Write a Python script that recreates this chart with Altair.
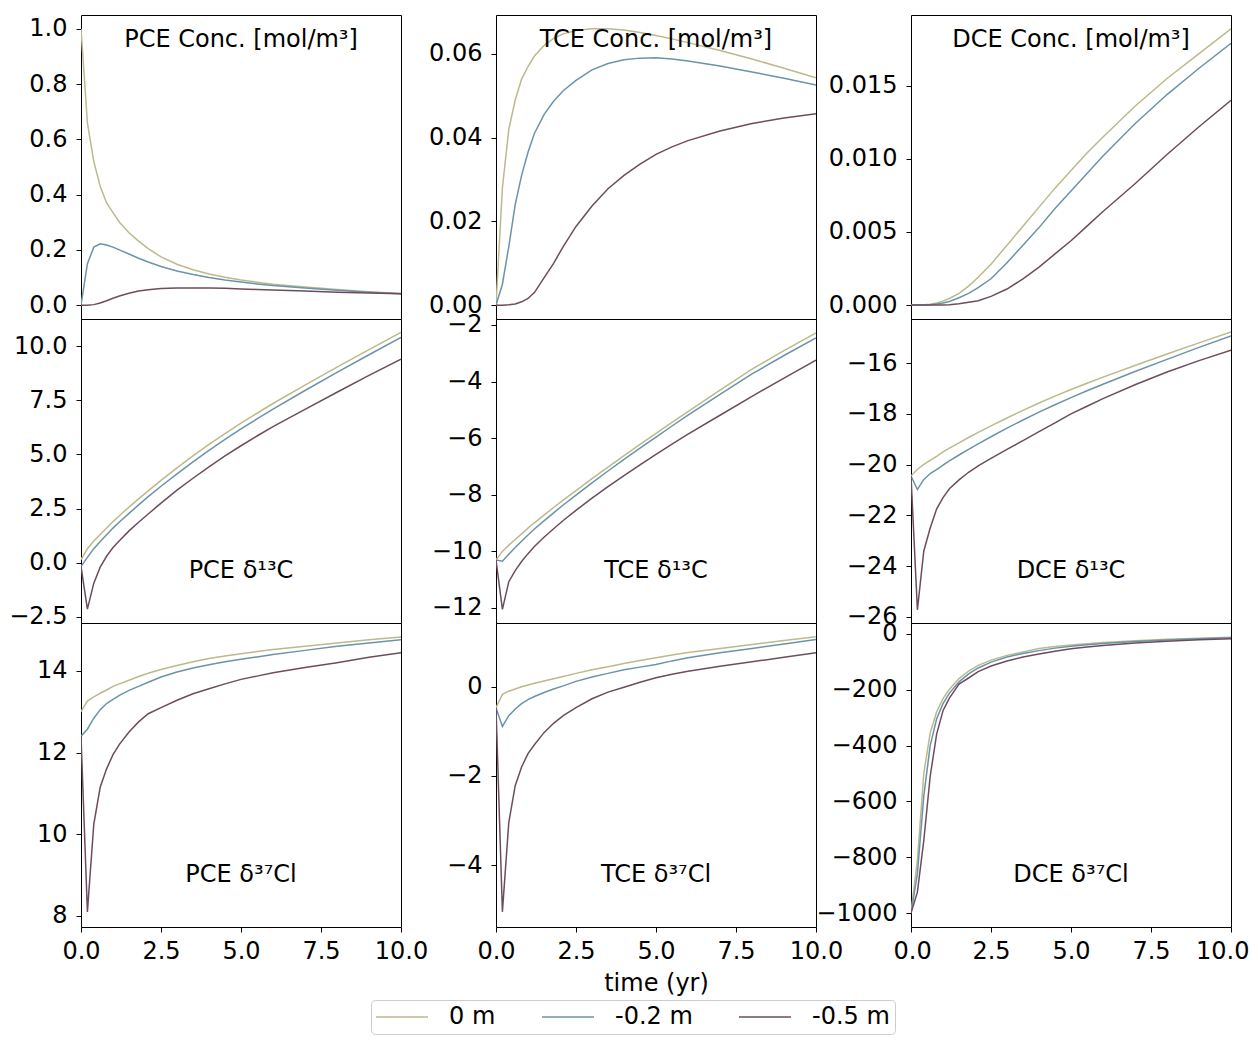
import altair as alt
import pandas as pd

# ---------------- data ----------------
T = [0, 0.2, 0.4, 0.6, 0.8, 1.0, 1.2, 1.5, 1.8, 2.1, 2.5, 3.0, 3.5, 4.0, 4.5, 5.0, 5.5, 6.0, 7.0, 8.0, 9.0, 10.0]
SERIES = ["0 m", "-0.2 m", "-0.5 m"]
COLORS = ["#bcb98c", "#6b93a9", "#6e4c5e"]

pce_conc_0 = [1.0, 0.66, 0.52, 0.43, 0.37, 0.335, 0.30, 0.262, 0.232, 0.205, 0.175, 0.148, 0.128, 0.113, 0.101, 0.091, 0.083, 0.076, 0.066, 0.057, 0.049, 0.042]
pce_conc_2 = [0.0, 0.15, 0.21, 0.222, 0.218, 0.21, 0.20, 0.185, 0.17, 0.156, 0.14, 0.124, 0.111, 0.1, 0.091, 0.084, 0.077, 0.071, 0.062, 0.054, 0.047, 0.041]
pce_conc_5 = [0.0, 0.0, 0.002, 0.008, 0.016, 0.025, 0.033, 0.043, 0.051, 0.056, 0.06, 0.062, 0.0625, 0.062, 0.061, 0.059, 0.057, 0.055, 0.051, 0.047, 0.044, 0.041]

tce_conc_0 = [0.0, 0.028, 0.042, 0.049, 0.054, 0.057, 0.0595, 0.062, 0.0637, 0.0648, 0.0656, 0.066, 0.066, 0.0657, 0.0651, 0.0644, 0.0636, 0.0627, 0.0608, 0.0588, 0.0566, 0.0543]
tce_conc_2 = [0.0, 0.005, 0.014, 0.024, 0.031, 0.0365, 0.041, 0.0455, 0.0487, 0.0512, 0.0537, 0.0562, 0.0577, 0.0586, 0.059, 0.0591, 0.0588, 0.0583, 0.0571, 0.0557, 0.0542, 0.0526]
tce_conc_5 = [0.0, 0.0, 0.0001, 0.0003, 0.0008, 0.0016, 0.003, 0.0065, 0.010, 0.014, 0.0188, 0.0237, 0.0278, 0.031, 0.0337, 0.036, 0.0378, 0.0393, 0.0416, 0.0434, 0.0447, 0.0457]

dce_conc_0 = [0.0, 0.0, 0.00002, 0.00006, 0.00014, 0.00027, 0.00045, 0.0008, 0.0013, 0.0019, 0.0028, 0.0041, 0.0054, 0.0067, 0.008, 0.0092, 0.0104, 0.0115, 0.0136, 0.0155, 0.0172, 0.0189]
dce_conc_2 = [0.0, 0.0, 0.00001, 0.00003, 0.00007, 0.00014, 0.00025, 0.0005, 0.0008, 0.0012, 0.0018, 0.0029, 0.0041, 0.0053, 0.0066, 0.0078, 0.009, 0.0102, 0.0124, 0.0144, 0.0162, 0.0179]
dce_conc_5 = [0.0, 0.0, 0.0, 0.0, 0.0, 0.00001, 0.00003, 0.0001, 0.0002, 0.0003, 0.0006, 0.0011, 0.0018, 0.0026, 0.0035, 0.0044, 0.0054, 0.0064, 0.0083, 0.0103, 0.0122, 0.014]

pce_d13c_0 = [0.15, 0.65, 1.0, 1.3, 1.6, 1.9, 2.17, 2.57, 2.95, 3.32, 3.8, 4.38, 4.93, 5.46, 5.96, 6.44, 6.9, 7.35, 8.2, 9.03, 9.84, 10.63]
pce_d13c_2 = [-0.17, 0.25, 0.65, 0.98, 1.29, 1.6, 1.88, 2.28, 2.67, 3.05, 3.53, 4.1, 4.66, 5.19, 5.69, 6.18, 6.64, 7.09, 7.95, 8.79, 9.6, 10.4]
pce_d13c_5 = [-0.17, -2.14, -0.94, -0.2, 0.3, 0.7, 1.02, 1.47, 1.87, 2.25, 2.75, 3.35, 3.9, 4.43, 4.93, 5.4, 5.85, 6.28, 7.08, 7.87, 8.65, 9.4]

tce_d13c_0 = [-10.3, -10.0, -9.78, -9.58, -9.38, -9.18, -8.99, -8.72, -8.45, -8.19, -7.85, -7.43, -7.02, -6.62, -6.22, -5.83, -5.44, -5.06, -4.3, -3.56, -2.91, -2.28]
tce_d13c_2 = [-10.3, -10.35, -10.1, -9.86, -9.64, -9.42, -9.21, -8.92, -8.64, -8.36, -8.01, -7.58, -7.16, -6.75, -6.35, -5.96, -5.57, -5.19, -4.45, -3.73, -3.08, -2.46]
tce_d13c_5 = [-10.3, -12.05, -11.07, -10.68, -10.36, -10.08, -9.83, -9.5, -9.2, -8.91, -8.55, -8.12, -7.71, -7.32, -6.94, -6.57, -6.21, -5.86, -5.19, -4.52, -3.88, -3.24]

dce_d13c_0 = [-20.45, -20.18, -19.99, -19.83, -19.67, -19.5, -19.35, -19.14, -18.93, -18.73, -18.47, -18.16, -17.86, -17.57, -17.3, -17.04, -16.79, -16.55, -16.09, -15.64, -15.2, -14.77]
dce_d13c_2 = [-20.45, -20.98, -20.58, -20.35, -20.2, -20.02, -19.85, -19.62, -19.4, -19.18, -18.9, -18.56, -18.24, -17.93, -17.64, -17.36, -17.09, -16.83, -16.33, -15.85, -15.38, -14.93]
dce_d13c_5 = [-20.45, -25.72, -23.4, -22.5, -21.75, -21.3, -20.95, -20.6, -20.3, -20.05, -19.75, -19.4, -19.05, -18.7, -18.35, -18.0, -17.7, -17.4, -16.85, -16.35, -15.9, -15.49]

pce_d37cl_0 = [13.0, 13.26, 13.36, 13.45, 13.53, 13.62, 13.68, 13.77, 13.86, 13.94, 14.03, 14.13, 14.22, 14.3, 14.36, 14.42, 14.47, 14.52, 14.6, 14.68, 14.76, 14.83]
pce_d37cl_2 = [12.4, 12.57, 12.84, 13.05, 13.2, 13.3, 13.4, 13.52, 13.62, 13.72, 13.85, 13.97, 14.07, 14.15, 14.22, 14.28, 14.34, 14.4, 14.5, 14.6, 14.68, 14.76]
pce_d37cl_5 = [12.4, 8.1, 10.25, 11.15, 11.6, 11.95, 12.2, 12.5, 12.75, 12.95, 13.1, 13.28, 13.44, 13.56, 13.68, 13.79, 13.87, 13.95, 14.08, 14.2, 14.33, 14.44]

tce_d37cl_0 = [-0.47, -0.17, -0.1, -0.05, 0.0, 0.04, 0.08, 0.13, 0.18, 0.23, 0.3, 0.38, 0.45, 0.52, 0.59, 0.65, 0.71, 0.77, 0.86, 0.95, 1.04, 1.12]
tce_d37cl_2 = [-0.47, -0.89, -0.65, -0.5, -0.38, -0.29, -0.22, -0.13, -0.05, 0.02, 0.12, 0.22, 0.3, 0.38, 0.44, 0.5, 0.58, 0.65, 0.76, 0.86, 0.96, 1.06]
tce_d37cl_5 = [-0.47, -5.05, -3.04, -2.22, -1.8, -1.5, -1.3, -1.03, -0.82, -0.65, -0.47, -0.27, -0.12, -0.01, 0.1, 0.2, 0.28, 0.35, 0.46, 0.56, 0.66, 0.76]

dce_d37cl_0 = [-1000, -810, -500, -355, -280, -232, -198, -160, -133, -113, -94, -77, -65, -52, -45, -40, -35, -31, -25, -19.5, -15.5, -12]
dce_d37cl_2 = [-1000, -860, -580, -400, -305, -250, -212, -172, -143, -122, -101, -83, -70, -60, -51, -44, -39, -34, -27.5, -22, -17.5, -14]
dce_d37cl_5 = [-1000, -925, -740, -510, -360, -275, -230, -180, -158, -135, -115, -97, -83, -72, -62, -53, -47, -42, -33, -26, -21, -17]

# panel definitions: (series lists, y domain, tick values, format, label text, label position)
PANELS = [
    ([pce_conc_0, pce_conc_2, pce_conc_5], [-0.05, 1.05], [0.0, 0.2, 0.4, 0.6, 0.8, 1.0], ".1f", "PCE Conc. [mol/m³]", "top"),
    ([tce_conc_0, tce_conc_2, tce_conc_5], [-0.0033, 0.0693], [0.0, 0.02, 0.04, 0.06], ".2f", "TCE Conc. [mol/m³]", "top"),
    ([dce_conc_0, dce_conc_2, dce_conc_5], [-0.00095, 0.01984], [0.0, 0.005, 0.010, 0.015], ".3f", "DCE Conc. [mol/m³]", "top"),
    ([pce_d13c_0, pce_d13c_2, pce_d13c_5], [-2.78, 11.25], [-2.5, 0.0, 2.5, 5.0, 7.5, 10.0], ".1f", "PCE δ¹³C", "bottom"),
    ([tce_d13c_0, tce_d13c_2, tce_d13c_5], [-12.53, -1.79], [-12, -10, -8, -6, -4, -2], "d", "TCE δ¹³C", "bottom"),
    ([dce_d13c_0, dce_d13c_2, dce_d13c_5], [-26.24, -14.26], [-26, -24, -22, -20, -18, -16], "d", "DCE δ¹³C", "bottom"),
    ([pce_d37cl_0, pce_d37cl_2, pce_d37cl_5], [7.73, 15.17], [8, 10, 12, 14], "d", "PCE δ³⁷Cl", "bottom"),
    ([tce_d37cl_0, tce_d37cl_2, tce_d37cl_5], [-5.39, 1.43], [-4, -2, 0], "d", "TCE δ³⁷Cl", "bottom"),
    ([dce_d37cl_0, dce_d37cl_2, dce_d37cl_5], [-1050, 39], [-1000, -800, -600, -400, -200, 0], "d", "DCE δ³⁷Cl", "bottom"),
]

W, H = 320, 304
FONT = "DejaVu Sans"

charts = []
for i, (series, dom, ticks, fmt, label, pos) in enumerate(PANELS):
    row, col = divmod(i, 3)
    rows = []
    for name, vals in zip(SERIES, series):
        for t, v in zip(T, vals):
            rows.append({"time": t, "value": v, "series": name})
    df = pd.DataFrame(rows)

    if row == 2:
        last = col == 2
        xaxis = alt.Axis(values=[0, 2.5, 5, 7.5, 10], format=".1f",
                         title="time (yr)" if col == 1 else None,
                         labelFlush=last, labelFlushOffset=18 if last else 0,
                         labelOverlap=False, labelPadding=7, titlePadding=8)
    else:
        xaxis = None

    line = alt.Chart(df).mark_line(strokeWidth=1.5, clip=True).encode(
        x=alt.X("time:Q", scale=alt.Scale(domain=[0, 10], nice=False, zero=False), axis=xaxis),
        y=alt.Y("value:Q", scale=alt.Scale(domain=dom, nice=False, zero=False),
                axis=alt.Axis(values=ticks, format=fmt, title=None, labelPadding=9,
                              labelOverlap=False, labelFlush=False, labelBound=False)),
        color=alt.Color("series:N", scale=alt.Scale(domain=SERIES, range=COLORS),
                        legend=alt.Legend(title=None, orient="none", direction="horizontal",
                                          columns=3, legendX=290, legendY=985,
                                          symbolType="M-2.5,0L2.5,0", symbolSize=433,
                                          symbolStrokeWidth=1.5, symbolOffset=14,
                                          labelFontSize=24, labelFont=FONT, labelColor="black",
                                          labelOffset=35, columnPadding=42,
                                          padding=5, strokeColor="#cccccc",
                                          fillColor="white", cornerRadius=4)),
    )
    ty = 25 if pos == "top" else 252
    text = alt.Chart(pd.DataFrame({"label": [label]})).mark_text(
        fontSize=24, font=FONT, color="black", align="center", baseline="middle"
    ).encode(text="label:N", x=alt.value(W / 2), y=alt.value(ty))

    charts.append(alt.layer(line, text).properties(width=W, height=H))

chart = alt.concat(*charts, columns=3, spacing={"row": 0, "column": 95}).properties(
    bounds="flush", padding={"left": 0, "top": 6, "right": 0, "bottom": 0}
).resolve_scale(y="independent").configure_view(
    stroke="black", strokeWidth=1
).configure_axis(
    labelFont=FONT, labelFontSize=24, labelColor="black", tickColor="black",
    tickSize=5, tickWidth=1, domain=False, grid=False,
    titleFont=FONT, titleFontSize=24, titleFontWeight="normal", titleColor="black"
)

chart.save("out.html", embed_options={"renderer": "svg", "actions": False})
